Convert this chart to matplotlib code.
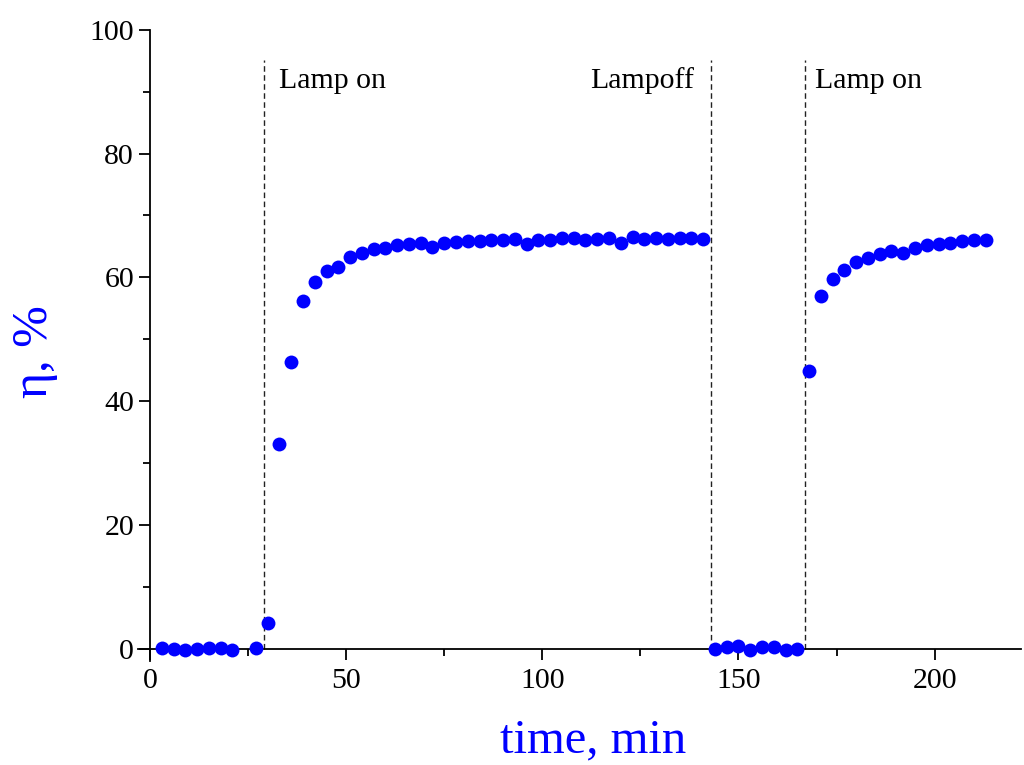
import matplotlib
matplotlib.use("Agg")
import matplotlib.pyplot as plt
from matplotlib.ticker import MultipleLocator

plt.rcParams['font.family'] = ['Liberation Serif', 'DejaVu Serif']
plt.rcParams['mathtext.fontset'] = 'stix'

# Data (time in min, efficiency in %)
time_off1 = [3, 6, 9, 12, 15, 18, 21, 27]
eta_off1 = [0.1, -0.1, -0.2, -0.1, 0.1, 0.1, -0.3, 0.1]

time_on1 = [30, 33, 36, 39, 42, 45, 48, 51, 54, 57, 60, 63, 66, 69, 72, 75, 78, 81, 84, 87,
            90, 93, 96, 99, 102, 105, 108, 111, 114, 117, 120, 123, 126, 129, 132, 135, 138, 141]
eta_on1 = [4.2, 33.1, 46.3, 56.2, 59.2, 61.1, 61.7, 63.3, 63.9, 64.5, 64.7, 65.2, 65.4, 65.5,
           64.9, 65.6, 65.7, 65.8, 65.9, 66.0, 66.0, 66.2, 65.4, 66.0, 66.0, 66.3, 66.3, 66.0,
           66.2, 66.4, 65.6, 66.5, 66.2, 66.3, 66.2, 66.4, 66.3, 66.2]

time_off2 = [144, 147, 150, 153, 156, 159, 162, 165]
eta_off2 = [0.0, 0.2, 0.4, -0.2, 0.2, 0.2, -0.2, 0.0]

time_on2 = [168, 171, 174, 177, 180, 183, 186, 189, 192, 195, 198, 201, 204, 207, 210, 213]
eta_on2 = [44.8, 57.0, 59.8, 61.2, 62.4, 63.2, 63.7, 64.2, 64.0, 64.8, 65.3, 65.4, 65.5,
           65.8, 66.0, 66.0]

switch_times = [29, 143, 167]
switch_labels = ["Lamp on", "Lampoff", "Lamp on"]

fig = plt.figure(figsize=(10.24, 7.65), dpi=100)
ax = fig.add_axes([0.135, 0.136, 0.862, 0.825])

for t, e in [(time_off1, eta_off1), (time_on1, eta_on1), (time_off2, eta_off2), (time_on2, eta_on2)]:
    ax.plot(t, e, 'o', color='#0000ff', markersize=10, markeredgewidth=0, zorder=3)

ax.vlines(switch_times, 0, 95.2, colors='#222222', linestyles=[(0, (4, 2.5))], linewidth=1.0, zorder=1)

ax.text(switch_times[0] + 4.0, 91.8, switch_labels[0], fontsize=21.5, ha='left', va='center')
ax.text(switch_times[1] - 4.4, 91.8, switch_labels[1], fontsize=21.5, ha='right', va='center')
ax.text(switch_times[2] + 2.6, 91.8, switch_labels[2], fontsize=21.5, ha='left', va='center')

ax.spines['left'].set_position(('data', 0))
ax.spines['bottom'].set_position(('data', 0))
ax.spines['top'].set_visible(False)
ax.spines['right'].set_visible(False)
for s in ['left', 'bottom']:
    ax.spines[s].set_linewidth(1.3)

ax.set_xticks([0, 50, 100, 150, 200])
ax.xaxis.set_minor_locator(MultipleLocator(25))
ax.yaxis.set_major_locator(MultipleLocator(20))
ax.yaxis.set_minor_locator(MultipleLocator(10))
ax.tick_params(which='major', direction='out', length=8, width=1.3, labelsize=21.5)
ax.tick_params(which='minor', direction='out', length=5, width=1.3)
ax.tick_params(axis='x', pad=6)
ax.set_xlim(-3, 222)
ax.set_ylim(-2, 100)

fig.text(0.579, 0.003, "time, min", color='#0000ff', fontsize=35, ha='center', va='bottom')
fig.text(0.034, 0.54, "η, %", color='#0000ff', fontsize=36, ha='center', va='center', rotation=90)

fig.savefig("out.png", dpi=100)
